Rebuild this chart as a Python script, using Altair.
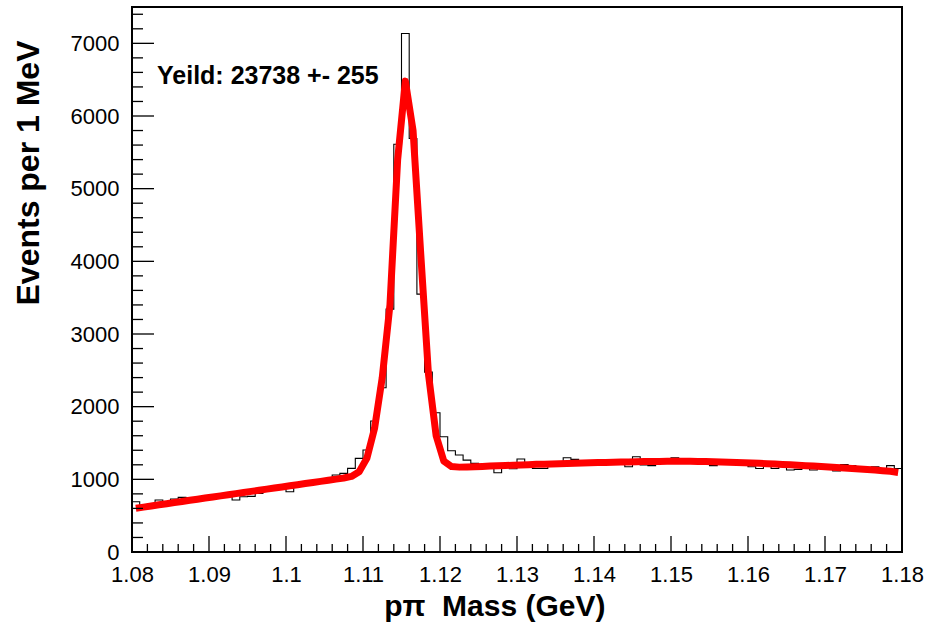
import altair as alt
import pandas as pd

# Histogram binning: 1 MeV bins from 1.080 to 1.180 GeV
x_lo = 1.08
x_hi = 1.18
bin_w = 0.001

# Entries per bin
counts = [
    692, 640, 660, 715, 690, 729, 752, 745, 720, 760,
    785, 800, 790, 715, 761, 765, 807, 860, 880, 862,
    830, 935, 955, 965, 985, 1000, 1060, 1082, 1151, 1289,
    1403, 1802, 2260, 3342, 5612, 7135, 5690, 3549, 2476, 1916,
    1586, 1394, 1334, 1265, 1220, 1195, 1200, 1091, 1180, 1146,
    1279, 1210, 1150, 1150, 1205, 1215, 1298, 1275, 1225, 1230,
    1232, 1225, 1243, 1240, 1174, 1311, 1197, 1188, 1243, 1250,
    1298, 1250, 1245, 1240, 1230, 1188, 1265, 1235, 1225, 1215,
    1174, 1150, 1200, 1150, 1190, 1128, 1137, 1170, 1128, 1160,
    1150, 1114, 1202, 1188, 1140, 1130, 1174, 1128, 1188, 1150,
]

# Fitted signal + background, evaluated at bin centres
fit = [
    603, 618, 634, 649, 665, 680, 695, 711, 726, 742,
    757, 772, 788, 803, 818, 834, 849, 865, 880, 895,
    911, 926, 942, 957, 972, 988, 1003, 1018, 1040, 1105,
    1290, 1700, 2400, 3400, 5400, 6480, 5800, 4100, 2450, 1600,
    1250, 1175, 1168, 1170, 1174, 1178, 1182, 1186, 1190, 1194,
    1198, 1202, 1206, 1209, 1212, 1215, 1218, 1221, 1224, 1227,
    1230, 1233, 1235, 1238, 1240, 1242, 1244, 1246, 1247, 1248,
    1249, 1249, 1248, 1247, 1245, 1243, 1240, 1236, 1232, 1228,
    1224, 1220, 1215, 1210, 1205, 1200, 1194, 1188, 1182, 1176,
    1170, 1163, 1156, 1149, 1142, 1135, 1127, 1119, 1111, 1095,
]

yield_label = "Yeild: 23738 +- 255"
x_title = "p\u03c0\u00a0 Mass (GeV)"
y_title = "Events per 1 MeV"

x_major = [1.08, 1.09, 1.10, 1.11, 1.12, 1.13, 1.14, 1.15, 1.16, 1.17, 1.18]
y_major = [0, 1000, 2000, 3000, 4000, 5000, 6000, 7000]
x_minor = [round(x_lo + 0.002 * i, 3) for i in range(51) if i % 5 != 0]
y_minor = [200 * i for i in range(38) if i % 5 != 0]

n_bins = len(counts)
edges = [round(x_lo + i * bin_w, 4) for i in range(n_bins + 1)]
centers = [round(x_lo + (i + 0.5) * bin_w, 4) for i in range(n_bins)]

hist_df = pd.DataFrame({"x": edges, "n": counts + [counts[-1]]})
fit_df = pd.DataFrame({"x": centers, "n": fit})

W, H = 770, 545
FONT = "Liberation Sans"

xscale = alt.Scale(domain=[x_lo, x_hi], nice=False, zero=False)
yscale = alt.Scale(domain=[0, 7500], nice=False, zero=True)

x_axis = alt.Axis(
    values=x_major, format=".2~f", ticks=False, domain=False, grid=False,
    labelFont=FONT, labelFontSize=22, labelColor="black", labelPadding=12,
    labelFlush=False,
    titleFont=FONT, titleFontSize=30, titleFontWeight="bold", titleColor="black",
    titleAlign="right", titleAnchor="start", titleX=473, titleY=63,
    titleBaseline="alphabetic",
)
y_axis = alt.Axis(
    values=y_major, format="d", ticks=False, domain=False, grid=False,
    labelFont=FONT, labelFontSize=22, labelColor="black", labelPadding=13,
    labelFlush=False,
    titleFont=FONT, titleFontSize=32, titleFontWeight="bold", titleColor="black",
    titleAngle=-90, titleAlign="right", titleAnchor="start",
    titleX=-104, titleY=33, titleBaseline="middle",
)


def X(field):
    return alt.X(field, type="quantitative", scale=xscale, axis=x_axis, title=x_title)


def Y(field):
    return alt.Y(field, type="quantitative", scale=yscale, axis=y_axis, title=y_title)


hist = alt.Chart(hist_df).mark_line(
    interpolate="step-after", color="black", strokeWidth=1.1
).encode(x=X("x"), y=Y("n"))

fit_line = alt.Chart(fit_df).mark_line(
    color="#ff0000", strokeWidth=7, strokeJoin="round", strokeCap="butt"
).encode(x=X("x"), y=Y("n"))


# Inward ticks along the bottom and left edges of the frame
def xticks(values, length):
    return alt.Chart(pd.DataFrame({"x": values})).mark_rule(
        color="black", strokeWidth=1.3
    ).encode(
        x=X("x"),
        y=alt.value(H), y2=alt.value(H - length),
    )


def yticks(values, length):
    return alt.Chart(pd.DataFrame({"n": values})).mark_rule(
        color="black", strokeWidth=1.3
    ).encode(
        y=Y("n"),
        x=alt.value(0), x2=alt.value(length),
    )


label = alt.Chart(pd.DataFrame({"t": [yield_label]})).mark_text(
    font=FONT, fontSize=25, fontWeight="bold", color="black",
    align="left", baseline="alphabetic",
).encode(
    text="t:N", x=alt.value(25), y=alt.value(77),
)

chart = alt.layer(
    hist, fit_line,
    xticks(x_major, 16), xticks(x_minor, 8),
    yticks(y_major, 22), yticks(y_minor, 11),
    label,
).properties(
    width=W, height=H,
    autosize=alt.AutoSizeParams(type="none"),
    padding={"left": 132, "top": 7, "right": 28, "bottom": 78},
    background="white",
).configure_view(
    stroke="black", strokeWidth=2
)

chart.save("out.html", embed_options={"renderer": "svg", "actions": False})
